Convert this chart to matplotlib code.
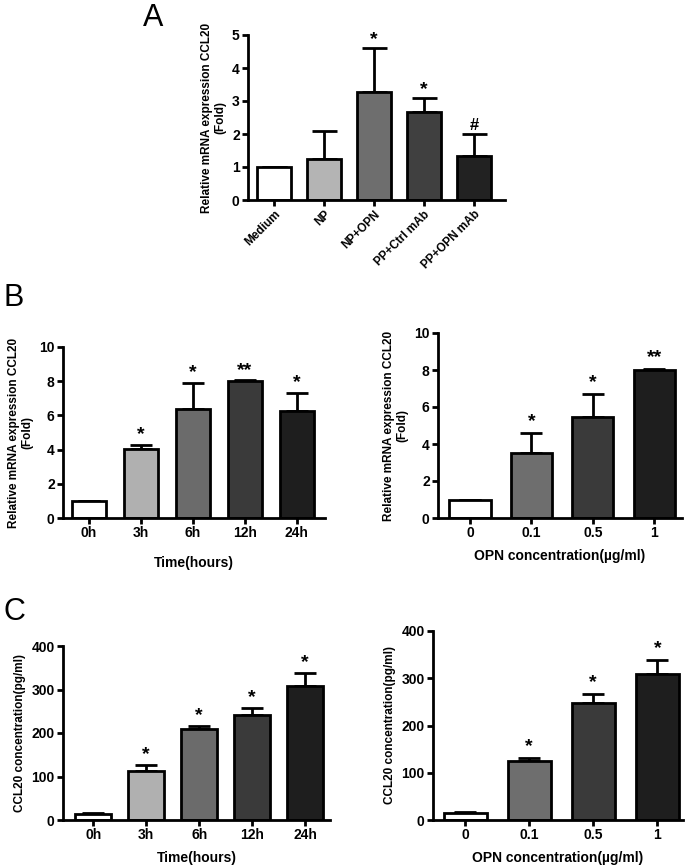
import matplotlib.pyplot as plt

plt.rcParams['font.family'] = ['Liberation Sans', 'DejaVu Sans']

# Panel A
a_labels = ['Medium', 'NP', 'NP+OPN', 'PP+Ctrl mAb', 'PP+OPN mAb']
a_means = [1.0, 1.25, 3.28, 2.67, 1.32]
a_err = [0.0, 0.85, 1.32, 0.43, 0.68]
a_marks = ['', '', '*', '*', '#']
a_colors = ['white', '#b4b4b4', '#6e6e6e', '#404040', '#222222']

# Panel B (time course, mRNA)
b1_labels = ['0h', '3h', '6h', '12h', '24h']
b1_means = [1.0, 4.05, 6.35, 8.0, 6.27]
b1_err = [0.0, 0.2, 1.55, 0.05, 1.03]
b1_marks = ['', '*', '*', '**', '*']
b1_colors = ['white', '#b0b0b0', '#6b6b6b', '#3a3a3a', '#1e1e1e']

# Panel B (dose, mRNA)
b2_labels = ['0', '0.1', '0.5', '1']
b2_means = [1.0, 3.5, 5.45, 8.0]
b2_err = [0.0, 1.1, 1.25, 0.05]
b2_marks = ['', '*', '*', '**']
b2_colors = ['white', '#6e6e6e', '#3a3a3a', '#1e1e1e']

# Panel C (time course, protein)
c1_labels = ['0h', '3h', '6h', '12h', '24h']
c1_means = [14, 112, 209, 242, 309]
c1_err = [2, 15, 7, 16, 29]
c1_marks = ['', '*', '*', '*', '*']

# Panel C (dose, protein)
c2_labels = ['0', '0.1', '0.5', '1']
c2_means = [14, 124, 247, 309]
c2_err = [2, 7, 20, 29]
c2_marks = ['', '*', '*', '*']

W, H = 693, 868
fig = plt.figure(figsize=(W / 100, H / 100), dpi=100)


def px_axes(x0, x1, ytop, ybot):
    return fig.add_axes([x0 / W, 1 - ybot / H, (x1 - x0) / W, (ybot - ytop) / H])


def bar_panel(ax, labels, means, err, marks, colors, ymax, ystep, xlim,
              ylabel, xlabel=None, capsize=8, rot=0, mark_off=0.06,
              xpad=6):
    x = list(range(len(labels)))
    ax.bar(x, means, width=0.67, color=colors, edgecolor='black',
           linewidth=2, zorder=2)
    ax.errorbar(x, means, yerr=[[0] * len(err), err], fmt='none',
                ecolor='black', elinewidth=2, capsize=capsize,
                capthick=2, zorder=1)
    for xi, m, e, s in zip(x, means, err, marks):
        if s:
            ax.text(xi, m + e + ymax * mark_off, s, ha='center', va='center',
                    fontsize=14 if s != '#' else 12, fontweight='bold')
    ax.set_ylim(0, ymax)
    ax.set_xlim(*xlim)
    ax.set_yticks([ystep * i for i in range(int(round(ymax / ystep)) + 1)])
    ax.set_xticks(x)
    if rot:
        ax.set_xticklabels(labels, rotation=rot, ha='right',
                           rotation_mode='anchor', fontsize=8.5,
                           fontweight='bold')
    else:
        ax.set_xticklabels(labels, fontsize=10, fontweight='bold')
    for t in ax.get_yticklabels():
        t.set_fontweight('bold')
        t.set_fontsize(10)
    ax.spines['top'].set_visible(False)
    ax.spines['right'].set_visible(False)
    ax.spines['left'].set_linewidth(2)
    ax.spines['bottom'].set_linewidth(2)
    ax.tick_params(width=2, length=4, direction='out', pad=2)
    ax.set_ylabel(ylabel, fontsize=8.5, fontweight='bold', labelpad=4)
    if xlabel:
        ax.set_xlabel(xlabel, fontsize=10, fontweight='bold', labelpad=xpad)


mrna = 'Relative mRNA expression CCL20\n(Fold)'
conc = 'CCL20 concentration(pg/ml)'

axA = px_axes(248, 505, 35, 200)
bar_panel(axA, a_labels, a_means, a_err, a_marks, a_colors, 5, 1,
          (-0.52, 4.62), mrna, capsize=9, rot=45, mark_off=0.05)

axB1 = px_axes(63, 325, 347, 518)
bar_panel(axB1, b1_labels, b1_means, b1_err, b1_marks, b1_colors, 10, 2,
          (-0.5, 4.54), mrna, 'Time(hours)', capsize=8, xpad=11)

axB2 = px_axes(438, 682, 333, 518)
bar_panel(axB2, b2_labels, b2_means, b2_err, b2_marks, b2_colors, 10, 2,
          (-0.52, 3.45), mrna, 'OPN concentration(µg/ml)', capsize=8)

axC1 = px_axes(63, 330, 646, 820)
bar_panel(axC1, c1_labels, c1_means, c1_err, c1_marks, b1_colors, 400, 100,
          (-0.57, 4.47), conc, 'Time(hours)', capsize=8)

axC2 = px_axes(433, 683, 631, 820)
bar_panel(axC2, c2_labels, c2_means, c2_err, c2_marks, b2_colors, 400, 100,
          (-0.5, 3.4), conc, 'OPN concentration(µg/ml)', capsize=8)

fig.text(153 / W, 1 - 18 / H, 'A', fontsize=22, ha='center', va='center')
fig.text(14 / W, 1 - 298 / H, 'B', fontsize=22, ha='center', va='center')
fig.text(14 / W, 1 - 612 / H, 'C', fontsize=22, ha='center', va='center')

fig.savefig('out.png', dpi=100)
